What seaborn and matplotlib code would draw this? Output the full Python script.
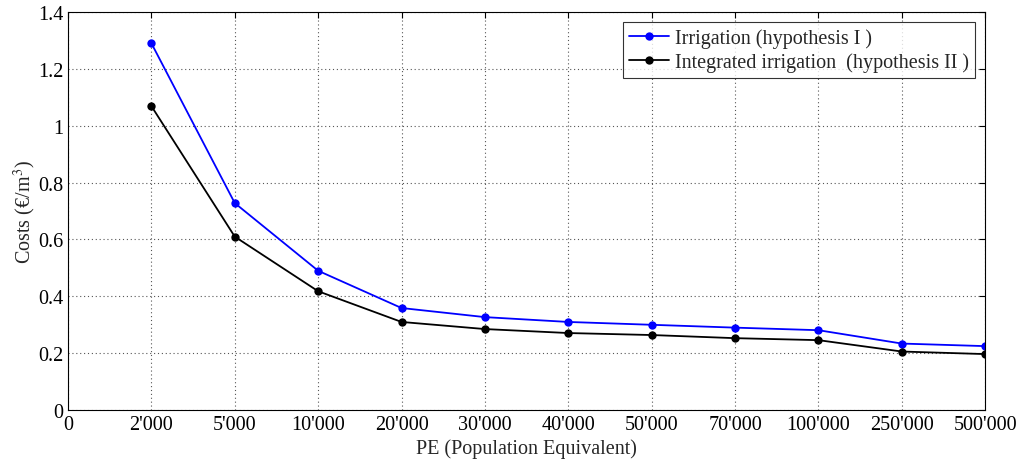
import numpy as np
import pandas as pd
import matplotlib
matplotlib.use("Agg")
import matplotlib.pyplot as plt
import seaborn as sns

# ------------------------------------------------------------
# data
# ------------------------------------------------------------
pe_labels = ["0", "2'000", "5'000", "10'000", "20'000", "30'000", "40'000",
             "50'000", "70'000", "100'000", "250'000", "500'000"]
pe_points = pe_labels[1:]

irrigation = [1.29, 0.728, 0.49, 0.359, 0.327, 0.31, 0.30, 0.29, 0.281, 0.234, 0.225]
integrated = [1.069, 0.61, 0.418, 0.31, 0.285, 0.271, 0.264, 0.253, 0.246, 0.206, 0.197]

series_names = ["Irrigation (hypothesis I )", "Integrated irrigation  (hypothesis II )"]
colors = ["#0000ff", "#000000"]

df = pd.DataFrame({
    "pos": list(range(1, len(pe_points) + 1)) * 2,
    "cost": irrigation + integrated,
    "series": [series_names[0]] * len(irrigation) + [series_names[1]] * len(integrated),
})

# ------------------------------------------------------------
# plot
# ------------------------------------------------------------
sns.set_style("white")
plt.rcParams["font.family"] = ["Liberation Serif", "DejaVu Serif"]
plt.rcParams["mathtext.fontset"] = "stix"

fig = plt.figure(figsize=(10.23, 4.64), dpi=100)
ax = fig.add_axes([0.0665, 0.114, 0.8965, 0.858])

sns.lineplot(data=df, x="pos", y="cost", hue="series", palette=colors,
             marker="o", markersize=6, markeredgewidth=0, linewidth=1.3,
             ax=ax)

ax.set_xlim(0, len(pe_labels) - 1)
ax.set_ylim(0, 1.4)
ax.set_xticks(range(len(pe_labels)))
ax.set_xticklabels(pe_labels)
ax.set_yticks(np.arange(0, 1.41, 0.2))
ax.set_yticklabels(["0", "0.2", "0.4", "0.6", "0.8", "1", "1.2", "1.4"])

ax.grid(True, linestyle=(0, (1, 2.5)), color="#555555", linewidth=0.8)
for s in ax.spines.values():
    s.set_color("black")
    s.set_linewidth(0.8)
ax.tick_params(direction="in", top=True, right=True, length=4, labelsize=14.5,
               colors="black")

ax.set_xlabel("PE (Population Equivalent)", fontsize=14.5, labelpad=3)
ax.set_ylabel("Costs (€/m$^3$)", fontsize=14.5, labelpad=0)

leg = ax.legend(loc="upper right", fontsize=14.5, frameon=True, fancybox=False,
                handlelength=2.0, borderaxespad=0.5, borderpad=0.3,
                labelspacing=0.2, handletextpad=0.3)
leg.get_frame().set_edgecolor("black")
leg.get_frame().set_linewidth(0.8)

fig.savefig("out.png", dpi=100)
